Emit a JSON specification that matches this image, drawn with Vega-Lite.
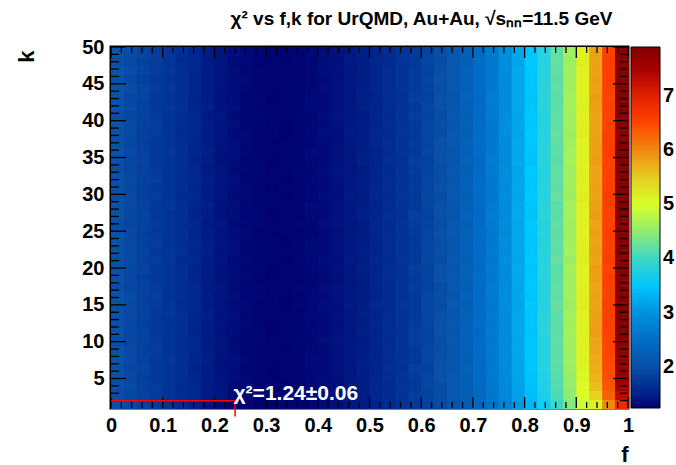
{
"$schema": "https://vega.github.io/schema/vega-lite/v6.json",
"width": 517, "height": 361,
"autosize": "none",
"padding": {"left": 111, "top": 47, "right": 48, "bottom": 57},
"background": "white",
"config": {
 "view": {"stroke": "black", "strokeWidth": 3},
 "font": "Liberation Sans",
 "axis": {"labelFont": "Liberation Sans", "labelFontSize": 20, "labelFontWeight": "bold", "labelColor": "black", "ticks": false, "domain": false, "grid": false, "titleFont": "Liberation Sans", "titleFontSize": 22, "titleFontWeight": "bold", "titleColor": "black", "labelOverlap": false, "labelFlush": false, "labelBound": false}
},
"title": {"text": "χ² vs f,k for UrQMD, Au+Au,  √sₙₙ=11.5 GeV", "fontSize": 19, "font": "Liberation Sans", "fontWeight": "bold", "anchor": "middle", "frame": "group", "dx": 52, "dy": 10, "offset": 3, "baseline": "alphabetic", "color": "black"},
"resolve": {"axis": {"x": "independent", "y": "independent"}},
"datasets": {
 "xmaj": [{"f":0},{"f":0.1},{"f":0.2},{"f":0.3},{"f":0.4},{"f":0.5},{"f":0.6},{"f":0.7},{"f":0.8},{"f":0.9},{"f":1}],
 "xmin": [{"f":0.02},{"f":0.04},{"f":0.06},{"f":0.08},{"f":0.12},{"f":0.14},{"f":0.16},{"f":0.18},{"f":0.22},{"f":0.24},{"f":0.26},{"f":0.28},{"f":0.32},{"f":0.34},{"f":0.36},{"f":0.38},{"f":0.42},{"f":0.44},{"f":0.46},{"f":0.48},{"f":0.52},{"f":0.54},{"f":0.56},{"f":0.58},{"f":0.62},{"f":0.64},{"f":0.66},{"f":0.68},{"f":0.72},{"f":0.74},{"f":0.76},{"f":0.78},{"f":0.82},{"f":0.84},{"f":0.86},{"f":0.88},{"f":0.92},{"f":0.94},{"f":0.96},{"f":0.98}],
 "ymaj": [{"k":5},{"k":10},{"k":15},{"k":20},{"k":25},{"k":30},{"k":35},{"k":40},{"k":45},{"k":50}],
 "ymin": [{"k":2},{"k":3},{"k":4},{"k":6},{"k":7},{"k":8},{"k":9},{"k":11},{"k":12},{"k":13},{"k":14},{"k":16},{"k":17},{"k":18},{"k":19},{"k":21},{"k":22},{"k":23},{"k":24},{"k":26},{"k":27},{"k":28},{"k":29},{"k":31},{"k":32},{"k":33},{"k":34},{"k":36},{"k":37},{"k":38},{"k":39},{"k":41},{"k":42},{"k":43},{"k":44},{"k":46},{"k":47},{"k":48},{"k":49}]
},
"layer": [
{
 "data": {"values": [
{"f":0,"k":1,"c":2.03},{"f":0.025,"k":1,"c":1.93},{"f":0.05,"k":1,"c":1.84},{"f":0.075,"k":1,"c":1.75},{"f":0.1,"k":1,"c":1.66},{"f":0.125,"k":1,"c":1.57},{"f":0.15,"k":1,"c":1.48},{"f":0.175,"k":1,"c":1.40},{"f":0.2,"k":1,"c":1.32},{"f":0.225,"k":1,"c":1.24},{"f":0.25,"k":1,"c":1.26},{"f":0.275,"k":1,"c":1.25},{"f":0.3,"k":1,"c":1.25},{"f":0.325,"k":1,"c":1.26},{"f":0.35,"k":1,"c":1.27},{"f":0.375,"k":1,"c":1.30},{"f":0.4,"k":1,"c":1.33},{"f":0.425,"k":1,"c":1.36},{"f":0.45,"k":1,"c":1.41},{"f":0.475,"k":1,"c":1.46},{"f":0.5,"k":1,"c":1.52},{"f":0.525,"k":1,"c":1.58},{"f":0.55,"k":1,"c":1.66},{"f":0.575,"k":1,"c":1.75},{"f":0.6,"k":1,"c":1.84},{"f":0.625,"k":1,"c":1.95},{"f":0.65,"k":1,"c":2.07},{"f":0.675,"k":1,"c":2.21},{"f":0.7,"k":1,"c":2.39},{"f":0.725,"k":1,"c":2.60},{"f":0.75,"k":1,"c":2.82},{"f":0.775,"k":1,"c":3.07},{"f":0.8,"k":1,"c":3.35},{"f":0.825,"k":1,"c":3.65},{"f":0.85,"k":1,"c":4.00},{"f":0.875,"k":1,"c":4.40},{"f":0.9,"k":1,"c":4.90},{"f":0.925,"k":1,"c":5.15},{"f":0.95,"k":1,"c":6.00},{"f":0.975,"k":1,"c":6.85},
{"f":0,"k":2.225,"c":1.99},{"f":0.025,"k":2.225,"c":1.90},{"f":0.05,"k":2.225,"c":1.85},{"f":0.075,"k":2.225,"c":1.77},{"f":0.1,"k":2.225,"c":1.68},{"f":0.125,"k":2.225,"c":1.60},{"f":0.15,"k":2.225,"c":1.55},{"f":0.175,"k":2.225,"c":1.44},{"f":0.2,"k":2.225,"c":1.41},{"f":0.225,"k":2.225,"c":1.32},{"f":0.25,"k":2.225,"c":1.30},{"f":0.275,"k":2.225,"c":1.29},{"f":0.3,"k":2.225,"c":1.26},{"f":0.325,"k":2.225,"c":1.27},{"f":0.35,"k":2.225,"c":1.29},{"f":0.375,"k":2.225,"c":1.30},{"f":0.4,"k":2.225,"c":1.34},{"f":0.425,"k":2.225,"c":1.39},{"f":0.45,"k":2.225,"c":1.41},{"f":0.475,"k":2.225,"c":1.45},{"f":0.5,"k":2.225,"c":1.54},{"f":0.525,"k":2.225,"c":1.59},{"f":0.55,"k":2.225,"c":1.67},{"f":0.575,"k":2.225,"c":1.78},{"f":0.6,"k":2.225,"c":1.86},{"f":0.625,"k":2.225,"c":1.98},{"f":0.65,"k":2.225,"c":2.13},{"f":0.675,"k":2.225,"c":2.24},{"f":0.7,"k":2.225,"c":2.43},{"f":0.725,"k":2.225,"c":2.63},{"f":0.75,"k":2.225,"c":2.87},{"f":0.775,"k":2.225,"c":3.13},{"f":0.8,"k":2.225,"c":3.42},{"f":0.825,"k":2.225,"c":3.72},{"f":0.85,"k":2.225,"c":4.08},{"f":0.875,"k":2.225,"c":4.48},{"f":0.9,"k":2.225,"c":5.00},{"f":0.925,"k":2.225,"c":5.45},{"f":0.95,"k":2.225,"c":6.30},{"f":0.975,"k":2.225,"c":7.30},
{"f":0,"k":3.45,"c":2.00},{"f":0.025,"k":3.45,"c":1.94},{"f":0.05,"k":3.45,"c":1.82},{"f":0.075,"k":3.45,"c":1.78},{"f":0.1,"k":3.45,"c":1.70},{"f":0.125,"k":3.45,"c":1.59},{"f":0.15,"k":3.45,"c":1.56},{"f":0.175,"k":3.45,"c":1.45},{"f":0.2,"k":3.45,"c":1.40},{"f":0.225,"k":3.45,"c":1.33},{"f":0.25,"k":3.45,"c":1.31},{"f":0.275,"k":3.45,"c":1.27},{"f":0.3,"k":3.45,"c":1.27},{"f":0.325,"k":3.45,"c":1.25},{"f":0.35,"k":3.45,"c":1.28},{"f":0.375,"k":3.45,"c":1.29},{"f":0.4,"k":3.45,"c":1.35},{"f":0.425,"k":3.45,"c":1.36},{"f":0.45,"k":3.45,"c":1.44},{"f":0.475,"k":3.45,"c":1.46},{"f":0.5,"k":3.45,"c":1.55},{"f":0.525,"k":3.45,"c":1.58},{"f":0.55,"k":3.45,"c":1.70},{"f":0.575,"k":3.45,"c":1.75},{"f":0.6,"k":3.45,"c":1.89},{"f":0.625,"k":3.45,"c":1.97},{"f":0.65,"k":3.45,"c":2.14},{"f":0.675,"k":3.45,"c":2.26},{"f":0.7,"k":3.45,"c":2.44},{"f":0.725,"k":3.45,"c":2.65},{"f":0.75,"k":3.45,"c":2.89},{"f":0.775,"k":3.45,"c":3.16},{"f":0.8,"k":3.45,"c":3.45},{"f":0.825,"k":3.45,"c":3.76},{"f":0.85,"k":3.45,"c":4.12},{"f":0.875,"k":3.45,"c":4.52},{"f":0.9,"k":3.45,"c":5.05},{"f":0.925,"k":3.45,"c":5.60},{"f":0.95,"k":3.45,"c":6.38},{"f":0.975,"k":3.45,"c":7.50},
{"f":0,"k":4.675,"c":2.03},{"f":0.025,"k":4.675,"c":1.92},{"f":0.05,"k":4.675,"c":1.81},{"f":0.075,"k":4.675,"c":1.75},{"f":0.1,"k":4.675,"c":1.69},{"f":0.125,"k":4.675,"c":1.62},{"f":0.15,"k":4.675,"c":1.54},{"f":0.175,"k":4.675,"c":1.47},{"f":0.2,"k":4.675,"c":1.39},{"f":0.225,"k":4.675,"c":1.34},{"f":0.25,"k":4.675,"c":1.31},{"f":0.275,"k":4.675,"c":1.27},{"f":0.3,"k":4.675,"c":1.25},{"f":0.325,"k":4.675,"c":1.26},{"f":0.35,"k":4.675,"c":1.27},{"f":0.375,"k":4.675,"c":1.29},{"f":0.4,"k":4.675,"c":1.33},{"f":0.425,"k":4.675,"c":1.36},{"f":0.45,"k":4.675,"c":1.42},{"f":0.475,"k":4.675,"c":1.47},{"f":0.5,"k":4.675,"c":1.53},{"f":0.525,"k":4.675,"c":1.60},{"f":0.55,"k":4.675,"c":1.68},{"f":0.575,"k":4.675,"c":1.77},{"f":0.6,"k":4.675,"c":1.87},{"f":0.625,"k":4.675,"c":2.02},{"f":0.65,"k":4.675,"c":2.12},{"f":0.675,"k":4.675,"c":2.27},{"f":0.7,"k":4.675,"c":2.46},{"f":0.725,"k":4.675,"c":2.66},{"f":0.75,"k":4.675,"c":2.91},{"f":0.775,"k":4.675,"c":3.18},{"f":0.8,"k":4.675,"c":3.47},{"f":0.825,"k":4.675,"c":3.78},{"f":0.85,"k":4.675,"c":4.14},{"f":0.875,"k":4.675,"c":4.55},{"f":0.9,"k":4.675,"c":5.08},{"f":0.925,"k":4.675,"c":5.68},{"f":0.95,"k":4.675,"c":6.42},{"f":0.975,"k":4.675,"c":7.60},
{"f":0,"k":5.9,"c":2.04},{"f":0.025,"k":5.9,"c":1.91},{"f":0.05,"k":5.9,"c":1.86},{"f":0.075,"k":5.9,"c":1.76},{"f":0.1,"k":5.9,"c":1.67},{"f":0.125,"k":5.9,"c":1.62},{"f":0.15,"k":5.9,"c":1.52},{"f":0.175,"k":5.9,"c":1.47},{"f":0.2,"k":5.9,"c":1.37},{"f":0.225,"k":5.9,"c":1.35},{"f":0.25,"k":5.9,"c":1.29},{"f":0.275,"k":5.9,"c":1.29},{"f":0.3,"k":5.9,"c":1.25},{"f":0.325,"k":5.9,"c":1.27},{"f":0.35,"k":5.9,"c":1.26},{"f":0.375,"k":5.9,"c":1.31},{"f":0.4,"k":5.9,"c":1.32},{"f":0.425,"k":5.9,"c":1.38},{"f":0.45,"k":5.9,"c":1.41},{"f":0.475,"k":5.9,"c":1.49},{"f":0.5,"k":5.9,"c":1.52},{"f":0.525,"k":5.9,"c":1.62},{"f":0.55,"k":5.9,"c":1.66},{"f":0.575,"k":5.9,"c":1.79},{"f":0.6,"k":5.9,"c":1.85},{"f":0.625,"k":5.9,"c":2.01},{"f":0.65,"k":5.9,"c":2.10},{"f":0.675,"k":5.9,"c":2.29},{"f":0.7,"k":5.9,"c":2.45},{"f":0.725,"k":5.9,"c":2.68},{"f":0.75,"k":5.9,"c":2.90},{"f":0.775,"k":5.9,"c":3.19},{"f":0.8,"k":5.9,"c":3.49},{"f":0.825,"k":5.9,"c":3.80},{"f":0.85,"k":5.9,"c":4.15},{"f":0.875,"k":5.9,"c":4.57},{"f":0.9,"k":5.9,"c":5.10},{"f":0.925,"k":5.9,"c":5.72},{"f":0.95,"k":5.9,"c":6.45},{"f":0.975,"k":5.9,"c":7.65},
{"f":0,"k":7.125,"c":2.05},{"f":0.025,"k":7.125,"c":1.93},{"f":0.05,"k":7.125,"c":1.84},{"f":0.075,"k":7.125,"c":1.74},{"f":0.1,"k":7.125,"c":1.71},{"f":0.125,"k":7.125,"c":1.63},{"f":0.15,"k":7.125,"c":1.53},{"f":0.175,"k":7.125,"c":1.48},{"f":0.2,"k":7.125,"c":1.38},{"f":0.225,"k":7.125,"c":1.36},{"f":0.25,"k":7.125,"c":1.30},{"f":0.275,"k":7.125,"c":1.28},{"f":0.3,"k":7.125,"c":1.27},{"f":0.325,"k":7.125,"c":1.26},{"f":0.35,"k":7.125,"c":1.26},{"f":0.375,"k":7.125,"c":1.32},{"f":0.4,"k":7.125,"c":1.33},{"f":0.425,"k":7.125,"c":1.37},{"f":0.45,"k":7.125,"c":1.43},{"f":0.475,"k":7.125,"c":1.48},{"f":0.5,"k":7.125,"c":1.51},{"f":0.525,"k":7.125,"c":1.61},{"f":0.55,"k":7.125,"c":1.69},{"f":0.575,"k":7.125,"c":1.76},{"f":0.6,"k":7.125,"c":1.88},{"f":0.625,"k":7.125,"c":2.00},{"f":0.65,"k":7.125,"c":2.11},{"f":0.675,"k":7.125,"c":2.27},{"f":0.7,"k":7.125,"c":2.47},{"f":0.725,"k":7.125,"c":2.67},{"f":0.75,"k":7.125,"c":2.93},{"f":0.775,"k":7.125,"c":3.18},{"f":0.8,"k":7.125,"c":3.48},{"f":0.825,"k":7.125,"c":3.81},{"f":0.85,"k":7.125,"c":4.17},{"f":0.875,"k":7.125,"c":4.58},{"f":0.9,"k":7.125,"c":5.12},{"f":0.925,"k":7.125,"c":5.75},{"f":0.95,"k":7.125,"c":6.48},{"f":0.975,"k":7.125,"c":7.70},
{"f":0,"k":8.35,"c":2.06},{"f":0.025,"k":8.35,"c":1.95},{"f":0.05,"k":8.35,"c":1.83},{"f":0.075,"k":8.35,"c":1.79},{"f":0.1,"k":8.35,"c":1.68},{"f":0.125,"k":8.35,"c":1.61},{"f":0.15,"k":8.35,"c":1.55},{"f":0.175,"k":8.35,"c":1.46},{"f":0.2,"k":8.35,"c":1.40},{"f":0.225,"k":8.35,"c":1.35},{"f":0.25,"k":8.35,"c":1.29},{"f":0.275,"k":8.35,"c":1.28},{"f":0.3,"k":8.35,"c":1.26},{"f":0.325,"k":8.35,"c":1.25},{"f":0.35,"k":8.35,"c":1.28},{"f":0.375,"k":8.35,"c":1.31},{"f":0.4,"k":8.35,"c":1.32},{"f":0.425,"k":8.35,"c":1.38},{"f":0.45,"k":8.35,"c":1.43},{"f":0.475,"k":8.35,"c":1.46},{"f":0.5,"k":8.35,"c":1.52},{"f":0.525,"k":8.35,"c":1.61},{"f":0.55,"k":8.35,"c":1.67},{"f":0.575,"k":8.35,"c":1.76},{"f":0.6,"k":8.35,"c":1.88},{"f":0.625,"k":8.35,"c":1.99},{"f":0.65,"k":8.35,"c":2.11},{"f":0.675,"k":8.35,"c":2.28},{"f":0.7,"k":8.35,"c":2.46},{"f":0.725,"k":8.35,"c":2.69},{"f":0.75,"k":8.35,"c":2.92},{"f":0.775,"k":8.35,"c":3.20},{"f":0.8,"k":8.35,"c":3.50},{"f":0.825,"k":8.35,"c":3.80},{"f":0.85,"k":8.35,"c":4.16},{"f":0.875,"k":8.35,"c":4.60},{"f":0.9,"k":8.35,"c":5.13},{"f":0.925,"k":8.35,"c":5.78},{"f":0.95,"k":8.35,"c":6.50},{"f":0.975,"k":8.35,"c":7.72},
{"f":0,"k":9.575,"c":1.99},{"f":0.025,"k":9.575,"c":1.90},{"f":0.05,"k":9.575,"c":1.85},{"f":0.075,"k":9.575,"c":1.77},{"f":0.1,"k":9.575,"c":1.68},{"f":0.125,"k":9.575,"c":1.60},{"f":0.15,"k":9.575,"c":1.55},{"f":0.175,"k":9.575,"c":1.44},{"f":0.2,"k":9.575,"c":1.41},{"f":0.225,"k":9.575,"c":1.32},{"f":0.25,"k":9.575,"c":1.30},{"f":0.275,"k":9.575,"c":1.29},{"f":0.3,"k":9.575,"c":1.26},{"f":0.325,"k":9.575,"c":1.27},{"f":0.35,"k":9.575,"c":1.29},{"f":0.375,"k":9.575,"c":1.30},{"f":0.4,"k":9.575,"c":1.34},{"f":0.425,"k":9.575,"c":1.39},{"f":0.45,"k":9.575,"c":1.41},{"f":0.475,"k":9.575,"c":1.45},{"f":0.5,"k":9.575,"c":1.54},{"f":0.525,"k":9.575,"c":1.59},{"f":0.55,"k":9.575,"c":1.67},{"f":0.575,"k":9.575,"c":1.78},{"f":0.6,"k":9.575,"c":1.86},{"f":0.625,"k":9.575,"c":1.98},{"f":0.65,"k":9.575,"c":2.13},{"f":0.675,"k":9.575,"c":2.29},{"f":0.7,"k":9.575,"c":2.48},{"f":0.725,"k":9.575,"c":2.67},{"f":0.75,"k":9.575,"c":2.94},{"f":0.775,"k":9.575,"c":3.19},{"f":0.8,"k":9.575,"c":3.49},{"f":0.825,"k":9.575,"c":3.82},{"f":0.85,"k":9.575,"c":4.18},{"f":0.875,"k":9.575,"c":4.59},{"f":0.9,"k":9.575,"c":5.14},{"f":0.925,"k":9.575,"c":5.80},{"f":0.95,"k":9.575,"c":6.52},{"f":0.975,"k":9.575,"c":7.75},
{"f":0,"k":10.8,"c":2.04},{"f":0.025,"k":10.8,"c":1.91},{"f":0.05,"k":10.8,"c":1.86},{"f":0.075,"k":10.8,"c":1.76},{"f":0.1,"k":10.8,"c":1.67},{"f":0.125,"k":10.8,"c":1.62},{"f":0.15,"k":10.8,"c":1.52},{"f":0.175,"k":10.8,"c":1.47},{"f":0.2,"k":10.8,"c":1.37},{"f":0.225,"k":10.8,"c":1.35},{"f":0.25,"k":10.8,"c":1.29},{"f":0.275,"k":10.8,"c":1.29},{"f":0.3,"k":10.8,"c":1.25},{"f":0.325,"k":10.8,"c":1.27},{"f":0.35,"k":10.8,"c":1.26},{"f":0.375,"k":10.8,"c":1.31},{"f":0.4,"k":10.8,"c":1.32},{"f":0.425,"k":10.8,"c":1.38},{"f":0.45,"k":10.8,"c":1.41},{"f":0.475,"k":10.8,"c":1.49},{"f":0.5,"k":10.8,"c":1.52},{"f":0.525,"k":10.8,"c":1.62},{"f":0.55,"k":10.8,"c":1.66},{"f":0.575,"k":10.8,"c":1.79},{"f":0.6,"k":10.8,"c":1.85},{"f":0.625,"k":10.8,"c":2.01},{"f":0.65,"k":10.8,"c":2.10},{"f":0.675,"k":10.8,"c":2.31},{"f":0.7,"k":10.8,"c":2.45},{"f":0.725,"k":10.8,"c":2.71},{"f":0.75,"k":10.8,"c":2.90},{"f":0.775,"k":10.8,"c":3.23},{"f":0.8,"k":10.8,"c":3.47},{"f":0.825,"k":10.8,"c":3.85},{"f":0.85,"k":10.8,"c":4.15},{"f":0.875,"k":10.8,"c":4.63},{"f":0.9,"k":10.8,"c":5.12},{"f":0.925,"k":10.8,"c":5.86},{"f":0.95,"k":10.8,"c":6.52},{"f":0.975,"k":10.8,"c":7.84},
{"f":0,"k":12.025,"c":2.03},{"f":0.025,"k":12.025,"c":1.92},{"f":0.05,"k":12.025,"c":1.81},{"f":0.075,"k":12.025,"c":1.75},{"f":0.1,"k":12.025,"c":1.69},{"f":0.125,"k":12.025,"c":1.62},{"f":0.15,"k":12.025,"c":1.54},{"f":0.175,"k":12.025,"c":1.47},{"f":0.2,"k":12.025,"c":1.39},{"f":0.225,"k":12.025,"c":1.34},{"f":0.25,"k":12.025,"c":1.31},{"f":0.275,"k":12.025,"c":1.27},{"f":0.3,"k":12.025,"c":1.25},{"f":0.325,"k":12.025,"c":1.26},{"f":0.35,"k":12.025,"c":1.27},{"f":0.375,"k":12.025,"c":1.29},{"f":0.4,"k":12.025,"c":1.33},{"f":0.425,"k":12.025,"c":1.36},{"f":0.45,"k":12.025,"c":1.42},{"f":0.475,"k":12.025,"c":1.47},{"f":0.5,"k":12.025,"c":1.53},{"f":0.525,"k":12.025,"c":1.60},{"f":0.55,"k":12.025,"c":1.68},{"f":0.575,"k":12.025,"c":1.77},{"f":0.6,"k":12.025,"c":1.87},{"f":0.625,"k":12.025,"c":2.02},{"f":0.65,"k":12.025,"c":2.12},{"f":0.675,"k":12.025,"c":2.28},{"f":0.7,"k":12.025,"c":2.50},{"f":0.725,"k":12.025,"c":2.67},{"f":0.75,"k":12.025,"c":2.91},{"f":0.775,"k":12.025,"c":3.21},{"f":0.8,"k":12.025,"c":3.50},{"f":0.825,"k":12.025,"c":3.83},{"f":0.85,"k":12.025,"c":4.17},{"f":0.875,"k":12.025,"c":4.61},{"f":0.9,"k":12.025,"c":5.13},{"f":0.925,"k":12.025,"c":5.83},{"f":0.95,"k":12.025,"c":6.57},{"f":0.975,"k":12.025,"c":7.82},
{"f":0,"k":13.25,"c":2.05},{"f":0.025,"k":13.25,"c":1.93},{"f":0.05,"k":13.25,"c":1.84},{"f":0.075,"k":13.25,"c":1.74},{"f":0.1,"k":13.25,"c":1.71},{"f":0.125,"k":13.25,"c":1.63},{"f":0.15,"k":13.25,"c":1.53},{"f":0.175,"k":13.25,"c":1.48},{"f":0.2,"k":13.25,"c":1.38},{"f":0.225,"k":13.25,"c":1.36},{"f":0.25,"k":13.25,"c":1.30},{"f":0.275,"k":13.25,"c":1.28},{"f":0.3,"k":13.25,"c":1.27},{"f":0.325,"k":13.25,"c":1.26},{"f":0.35,"k":13.25,"c":1.26},{"f":0.375,"k":13.25,"c":1.32},{"f":0.4,"k":13.25,"c":1.33},{"f":0.425,"k":13.25,"c":1.37},{"f":0.45,"k":13.25,"c":1.43},{"f":0.475,"k":13.25,"c":1.48},{"f":0.5,"k":13.25,"c":1.51},{"f":0.525,"k":13.25,"c":1.61},{"f":0.55,"k":13.25,"c":1.69},{"f":0.575,"k":13.25,"c":1.76},{"f":0.6,"k":13.25,"c":1.88},{"f":0.625,"k":13.25,"c":2.00},{"f":0.65,"k":13.25,"c":2.11},{"f":0.675,"k":13.25,"c":2.29},{"f":0.7,"k":13.25,"c":2.48},{"f":0.725,"k":13.25,"c":2.70},{"f":0.75,"k":13.25,"c":2.92},{"f":0.775,"k":13.25,"c":3.22},{"f":0.8,"k":13.25,"c":3.48},{"f":0.825,"k":13.25,"c":3.84},{"f":0.85,"k":13.25,"c":4.16},{"f":0.875,"k":13.25,"c":4.62},{"f":0.9,"k":13.25,"c":5.14},{"f":0.925,"k":13.25,"c":5.84},{"f":0.95,"k":13.25,"c":6.56},{"f":0.975,"k":13.25,"c":7.86},
{"f":0,"k":14.475,"c":2.00},{"f":0.025,"k":14.475,"c":1.94},{"f":0.05,"k":14.475,"c":1.82},{"f":0.075,"k":14.475,"c":1.78},{"f":0.1,"k":14.475,"c":1.70},{"f":0.125,"k":14.475,"c":1.59},{"f":0.15,"k":14.475,"c":1.56},{"f":0.175,"k":14.475,"c":1.45},{"f":0.2,"k":14.475,"c":1.40},{"f":0.225,"k":14.475,"c":1.33},{"f":0.25,"k":14.475,"c":1.31},{"f":0.275,"k":14.475,"c":1.27},{"f":0.3,"k":14.475,"c":1.27},{"f":0.325,"k":14.475,"c":1.25},{"f":0.35,"k":14.475,"c":1.28},{"f":0.375,"k":14.475,"c":1.29},{"f":0.4,"k":14.475,"c":1.35},{"f":0.425,"k":14.475,"c":1.36},{"f":0.45,"k":14.475,"c":1.44},{"f":0.475,"k":14.475,"c":1.46},{"f":0.5,"k":14.475,"c":1.55},{"f":0.525,"k":14.475,"c":1.58},{"f":0.55,"k":14.475,"c":1.70},{"f":0.575,"k":14.475,"c":1.75},{"f":0.6,"k":14.475,"c":1.89},{"f":0.625,"k":14.475,"c":1.97},{"f":0.65,"k":14.475,"c":2.14},{"f":0.675,"k":14.475,"c":2.26},{"f":0.7,"k":14.475,"c":2.49},{"f":0.725,"k":14.475,"c":2.66},{"f":0.75,"k":14.475,"c":2.96},{"f":0.775,"k":14.475,"c":3.18},{"f":0.8,"k":14.475,"c":3.53},{"f":0.825,"k":14.475,"c":3.80},{"f":0.85,"k":14.475,"c":4.21},{"f":0.875,"k":14.475,"c":4.57},{"f":0.9,"k":14.475,"c":5.18},{"f":0.925,"k":14.475,"c":5.79},{"f":0.95,"k":14.475,"c":6.58},{"f":0.975,"k":14.475,"c":7.76},
{"f":0,"k":15.7,"c":2.06},{"f":0.025,"k":15.7,"c":1.95},{"f":0.05,"k":15.7,"c":1.83},{"f":0.075,"k":15.7,"c":1.79},{"f":0.1,"k":15.7,"c":1.68},{"f":0.125,"k":15.7,"c":1.61},{"f":0.15,"k":15.7,"c":1.55},{"f":0.175,"k":15.7,"c":1.46},{"f":0.2,"k":15.7,"c":1.40},{"f":0.225,"k":15.7,"c":1.35},{"f":0.25,"k":15.7,"c":1.29},{"f":0.275,"k":15.7,"c":1.28},{"f":0.3,"k":15.7,"c":1.26},{"f":0.325,"k":15.7,"c":1.25},{"f":0.35,"k":15.7,"c":1.28},{"f":0.375,"k":15.7,"c":1.31},{"f":0.4,"k":15.7,"c":1.32},{"f":0.425,"k":15.7,"c":1.38},{"f":0.45,"k":15.7,"c":1.43},{"f":0.475,"k":15.7,"c":1.46},{"f":0.5,"k":15.7,"c":1.52},{"f":0.525,"k":15.7,"c":1.61},{"f":0.55,"k":15.7,"c":1.67},{"f":0.575,"k":15.7,"c":1.76},{"f":0.6,"k":15.7,"c":1.88},{"f":0.625,"k":15.7,"c":1.99},{"f":0.65,"k":15.7,"c":2.11},{"f":0.675,"k":15.7,"c":2.30},{"f":0.7,"k":15.7,"c":2.47},{"f":0.725,"k":15.7,"c":2.68},{"f":0.75,"k":15.7,"c":2.95},{"f":0.775,"k":15.7,"c":3.20},{"f":0.8,"k":15.7,"c":3.49},{"f":0.825,"k":15.7,"c":3.82},{"f":0.85,"k":15.7,"c":4.18},{"f":0.875,"k":15.7,"c":4.60},{"f":0.9,"k":15.7,"c":5.17},{"f":0.925,"k":15.7,"c":5.81},{"f":0.95,"k":15.7,"c":6.54},{"f":0.975,"k":15.7,"c":7.80},
{"f":0,"k":16.925,"c":1.99},{"f":0.025,"k":16.925,"c":1.90},{"f":0.05,"k":16.925,"c":1.85},{"f":0.075,"k":16.925,"c":1.77},{"f":0.1,"k":16.925,"c":1.68},{"f":0.125,"k":16.925,"c":1.60},{"f":0.15,"k":16.925,"c":1.55},{"f":0.175,"k":16.925,"c":1.44},{"f":0.2,"k":16.925,"c":1.41},{"f":0.225,"k":16.925,"c":1.32},{"f":0.25,"k":16.925,"c":1.30},{"f":0.275,"k":16.925,"c":1.29},{"f":0.3,"k":16.925,"c":1.26},{"f":0.325,"k":16.925,"c":1.27},{"f":0.35,"k":16.925,"c":1.29},{"f":0.375,"k":16.925,"c":1.30},{"f":0.4,"k":16.925,"c":1.34},{"f":0.425,"k":16.925,"c":1.39},{"f":0.45,"k":16.925,"c":1.41},{"f":0.475,"k":16.925,"c":1.45},{"f":0.5,"k":16.925,"c":1.54},{"f":0.525,"k":16.925,"c":1.59},{"f":0.55,"k":16.925,"c":1.67},{"f":0.575,"k":16.925,"c":1.78},{"f":0.6,"k":16.925,"c":1.86},{"f":0.625,"k":16.925,"c":1.98},{"f":0.65,"k":16.925,"c":2.13},{"f":0.675,"k":16.925,"c":2.27},{"f":0.7,"k":16.925,"c":2.46},{"f":0.725,"k":16.925,"c":2.69},{"f":0.75,"k":16.925,"c":2.94},{"f":0.775,"k":16.925,"c":3.19},{"f":0.8,"k":16.925,"c":3.51},{"f":0.825,"k":16.925,"c":3.81},{"f":0.85,"k":16.925,"c":4.19},{"f":0.875,"k":16.925,"c":4.59},{"f":0.9,"k":16.925,"c":5.16},{"f":0.925,"k":16.925,"c":5.80},{"f":0.95,"k":16.925,"c":6.53},{"f":0.975,"k":16.925,"c":7.79},
{"f":0,"k":18.15,"c":2.03},{"f":0.025,"k":18.15,"c":1.92},{"f":0.05,"k":18.15,"c":1.81},{"f":0.075,"k":18.15,"c":1.75},{"f":0.1,"k":18.15,"c":1.69},{"f":0.125,"k":18.15,"c":1.62},{"f":0.15,"k":18.15,"c":1.54},{"f":0.175,"k":18.15,"c":1.47},{"f":0.2,"k":18.15,"c":1.39},{"f":0.225,"k":18.15,"c":1.34},{"f":0.25,"k":18.15,"c":1.31},{"f":0.275,"k":18.15,"c":1.27},{"f":0.3,"k":18.15,"c":1.25},{"f":0.325,"k":18.15,"c":1.26},{"f":0.35,"k":18.15,"c":1.27},{"f":0.375,"k":18.15,"c":1.29},{"f":0.4,"k":18.15,"c":1.33},{"f":0.425,"k":18.15,"c":1.36},{"f":0.45,"k":18.15,"c":1.42},{"f":0.475,"k":18.15,"c":1.47},{"f":0.5,"k":18.15,"c":1.53},{"f":0.525,"k":18.15,"c":1.60},{"f":0.55,"k":18.15,"c":1.68},{"f":0.575,"k":18.15,"c":1.77},{"f":0.6,"k":18.15,"c":1.87},{"f":0.625,"k":18.15,"c":2.02},{"f":0.65,"k":18.15,"c":2.12},{"f":0.675,"k":18.15,"c":2.28},{"f":0.7,"k":18.15,"c":2.50},{"f":0.725,"k":18.15,"c":2.67},{"f":0.75,"k":18.15,"c":2.91},{"f":0.775,"k":18.15,"c":3.21},{"f":0.8,"k":18.15,"c":3.50},{"f":0.825,"k":18.15,"c":3.83},{"f":0.85,"k":18.15,"c":4.17},{"f":0.875,"k":18.15,"c":4.61},{"f":0.9,"k":18.15,"c":5.13},{"f":0.925,"k":18.15,"c":5.83},{"f":0.95,"k":18.15,"c":6.57},{"f":0.975,"k":18.15,"c":7.82},
{"f":0,"k":19.375,"c":2.04},{"f":0.025,"k":19.375,"c":1.91},{"f":0.05,"k":19.375,"c":1.86},{"f":0.075,"k":19.375,"c":1.76},{"f":0.1,"k":19.375,"c":1.67},{"f":0.125,"k":19.375,"c":1.62},{"f":0.15,"k":19.375,"c":1.52},{"f":0.175,"k":19.375,"c":1.47},{"f":0.2,"k":19.375,"c":1.37},{"f":0.225,"k":19.375,"c":1.35},{"f":0.25,"k":19.375,"c":1.29},{"f":0.275,"k":19.375,"c":1.29},{"f":0.3,"k":19.375,"c":1.25},{"f":0.325,"k":19.375,"c":1.27},{"f":0.35,"k":19.375,"c":1.26},{"f":0.375,"k":19.375,"c":1.31},{"f":0.4,"k":19.375,"c":1.32},{"f":0.425,"k":19.375,"c":1.38},{"f":0.45,"k":19.375,"c":1.41},{"f":0.475,"k":19.375,"c":1.49},{"f":0.5,"k":19.375,"c":1.52},{"f":0.525,"k":19.375,"c":1.62},{"f":0.55,"k":19.375,"c":1.66},{"f":0.575,"k":19.375,"c":1.79},{"f":0.6,"k":19.375,"c":1.85},{"f":0.625,"k":19.375,"c":2.01},{"f":0.65,"k":19.375,"c":2.10},{"f":0.675,"k":19.375,"c":2.31},{"f":0.7,"k":19.375,"c":2.45},{"f":0.725,"k":19.375,"c":2.71},{"f":0.75,"k":19.375,"c":2.90},{"f":0.775,"k":19.375,"c":3.23},{"f":0.8,"k":19.375,"c":3.47},{"f":0.825,"k":19.375,"c":3.85},{"f":0.85,"k":19.375,"c":4.15},{"f":0.875,"k":19.375,"c":4.63},{"f":0.9,"k":19.375,"c":5.12},{"f":0.925,"k":19.375,"c":5.86},{"f":0.95,"k":19.375,"c":6.52},{"f":0.975,"k":19.375,"c":7.84},
{"f":0,"k":20.6,"c":2.00},{"f":0.025,"k":20.6,"c":1.94},{"f":0.05,"k":20.6,"c":1.82},{"f":0.075,"k":20.6,"c":1.78},{"f":0.1,"k":20.6,"c":1.70},{"f":0.125,"k":20.6,"c":1.59},{"f":0.15,"k":20.6,"c":1.56},{"f":0.175,"k":20.6,"c":1.45},{"f":0.2,"k":20.6,"c":1.40},{"f":0.225,"k":20.6,"c":1.33},{"f":0.25,"k":20.6,"c":1.31},{"f":0.275,"k":20.6,"c":1.27},{"f":0.3,"k":20.6,"c":1.27},{"f":0.325,"k":20.6,"c":1.25},{"f":0.35,"k":20.6,"c":1.28},{"f":0.375,"k":20.6,"c":1.29},{"f":0.4,"k":20.6,"c":1.35},{"f":0.425,"k":20.6,"c":1.36},{"f":0.45,"k":20.6,"c":1.44},{"f":0.475,"k":20.6,"c":1.46},{"f":0.5,"k":20.6,"c":1.55},{"f":0.525,"k":20.6,"c":1.58},{"f":0.55,"k":20.6,"c":1.70},{"f":0.575,"k":20.6,"c":1.75},{"f":0.6,"k":20.6,"c":1.89},{"f":0.625,"k":20.6,"c":1.97},{"f":0.65,"k":20.6,"c":2.14},{"f":0.675,"k":20.6,"c":2.26},{"f":0.7,"k":20.6,"c":2.49},{"f":0.725,"k":20.6,"c":2.66},{"f":0.75,"k":20.6,"c":2.96},{"f":0.775,"k":20.6,"c":3.18},{"f":0.8,"k":20.6,"c":3.53},{"f":0.825,"k":20.6,"c":3.80},{"f":0.85,"k":20.6,"c":4.21},{"f":0.875,"k":20.6,"c":4.57},{"f":0.9,"k":20.6,"c":5.18},{"f":0.925,"k":20.6,"c":5.79},{"f":0.95,"k":20.6,"c":6.58},{"f":0.975,"k":20.6,"c":7.76},
{"f":0,"k":21.825,"c":2.05},{"f":0.025,"k":21.825,"c":1.93},{"f":0.05,"k":21.825,"c":1.84},{"f":0.075,"k":21.825,"c":1.74},{"f":0.1,"k":21.825,"c":1.71},{"f":0.125,"k":21.825,"c":1.63},{"f":0.15,"k":21.825,"c":1.53},{"f":0.175,"k":21.825,"c":1.48},{"f":0.2,"k":21.825,"c":1.38},{"f":0.225,"k":21.825,"c":1.36},{"f":0.25,"k":21.825,"c":1.30},{"f":0.275,"k":21.825,"c":1.28},{"f":0.3,"k":21.825,"c":1.27},{"f":0.325,"k":21.825,"c":1.26},{"f":0.35,"k":21.825,"c":1.26},{"f":0.375,"k":21.825,"c":1.32},{"f":0.4,"k":21.825,"c":1.33},{"f":0.425,"k":21.825,"c":1.37},{"f":0.45,"k":21.825,"c":1.43},{"f":0.475,"k":21.825,"c":1.48},{"f":0.5,"k":21.825,"c":1.51},{"f":0.525,"k":21.825,"c":1.61},{"f":0.55,"k":21.825,"c":1.69},{"f":0.575,"k":21.825,"c":1.76},{"f":0.6,"k":21.825,"c":1.88},{"f":0.625,"k":21.825,"c":2.00},{"f":0.65,"k":21.825,"c":2.11},{"f":0.675,"k":21.825,"c":2.29},{"f":0.7,"k":21.825,"c":2.48},{"f":0.725,"k":21.825,"c":2.70},{"f":0.75,"k":21.825,"c":2.92},{"f":0.775,"k":21.825,"c":3.22},{"f":0.8,"k":21.825,"c":3.48},{"f":0.825,"k":21.825,"c":3.84},{"f":0.85,"k":21.825,"c":4.16},{"f":0.875,"k":21.825,"c":4.62},{"f":0.9,"k":21.825,"c":5.14},{"f":0.925,"k":21.825,"c":5.84},{"f":0.95,"k":21.825,"c":6.56},{"f":0.975,"k":21.825,"c":7.86},
{"f":0,"k":23.05,"c":2.06},{"f":0.025,"k":23.05,"c":1.95},{"f":0.05,"k":23.05,"c":1.83},{"f":0.075,"k":23.05,"c":1.79},{"f":0.1,"k":23.05,"c":1.68},{"f":0.125,"k":23.05,"c":1.61},{"f":0.15,"k":23.05,"c":1.55},{"f":0.175,"k":23.05,"c":1.46},{"f":0.2,"k":23.05,"c":1.40},{"f":0.225,"k":23.05,"c":1.35},{"f":0.25,"k":23.05,"c":1.29},{"f":0.275,"k":23.05,"c":1.28},{"f":0.3,"k":23.05,"c":1.26},{"f":0.325,"k":23.05,"c":1.25},{"f":0.35,"k":23.05,"c":1.28},{"f":0.375,"k":23.05,"c":1.31},{"f":0.4,"k":23.05,"c":1.32},{"f":0.425,"k":23.05,"c":1.38},{"f":0.45,"k":23.05,"c":1.43},{"f":0.475,"k":23.05,"c":1.46},{"f":0.5,"k":23.05,"c":1.52},{"f":0.525,"k":23.05,"c":1.61},{"f":0.55,"k":23.05,"c":1.67},{"f":0.575,"k":23.05,"c":1.76},{"f":0.6,"k":23.05,"c":1.88},{"f":0.625,"k":23.05,"c":1.99},{"f":0.65,"k":23.05,"c":2.11},{"f":0.675,"k":23.05,"c":2.30},{"f":0.7,"k":23.05,"c":2.47},{"f":0.725,"k":23.05,"c":2.68},{"f":0.75,"k":23.05,"c":2.95},{"f":0.775,"k":23.05,"c":3.20},{"f":0.8,"k":23.05,"c":3.49},{"f":0.825,"k":23.05,"c":3.82},{"f":0.85,"k":23.05,"c":4.18},{"f":0.875,"k":23.05,"c":4.60},{"f":0.9,"k":23.05,"c":5.17},{"f":0.925,"k":23.05,"c":5.81},{"f":0.95,"k":23.05,"c":6.54},{"f":0.975,"k":23.05,"c":7.80},
{"f":0,"k":24.275,"c":2.03},{"f":0.025,"k":24.275,"c":1.92},{"f":0.05,"k":24.275,"c":1.81},{"f":0.075,"k":24.275,"c":1.75},{"f":0.1,"k":24.275,"c":1.69},{"f":0.125,"k":24.275,"c":1.62},{"f":0.15,"k":24.275,"c":1.54},{"f":0.175,"k":24.275,"c":1.47},{"f":0.2,"k":24.275,"c":1.39},{"f":0.225,"k":24.275,"c":1.34},{"f":0.25,"k":24.275,"c":1.31},{"f":0.275,"k":24.275,"c":1.27},{"f":0.3,"k":24.275,"c":1.25},{"f":0.325,"k":24.275,"c":1.26},{"f":0.35,"k":24.275,"c":1.27},{"f":0.375,"k":24.275,"c":1.29},{"f":0.4,"k":24.275,"c":1.33},{"f":0.425,"k":24.275,"c":1.36},{"f":0.45,"k":24.275,"c":1.42},{"f":0.475,"k":24.275,"c":1.47},{"f":0.5,"k":24.275,"c":1.53},{"f":0.525,"k":24.275,"c":1.60},{"f":0.55,"k":24.275,"c":1.68},{"f":0.575,"k":24.275,"c":1.77},{"f":0.6,"k":24.275,"c":1.87},{"f":0.625,"k":24.275,"c":2.02},{"f":0.65,"k":24.275,"c":2.12},{"f":0.675,"k":24.275,"c":2.28},{"f":0.7,"k":24.275,"c":2.50},{"f":0.725,"k":24.275,"c":2.67},{"f":0.75,"k":24.275,"c":2.91},{"f":0.775,"k":24.275,"c":3.21},{"f":0.8,"k":24.275,"c":3.50},{"f":0.825,"k":24.275,"c":3.83},{"f":0.85,"k":24.275,"c":4.17},{"f":0.875,"k":24.275,"c":4.61},{"f":0.9,"k":24.275,"c":5.13},{"f":0.925,"k":24.275,"c":5.83},{"f":0.95,"k":24.275,"c":6.57},{"f":0.975,"k":24.275,"c":7.82},
{"f":0,"k":25.5,"c":1.99},{"f":0.025,"k":25.5,"c":1.90},{"f":0.05,"k":25.5,"c":1.85},{"f":0.075,"k":25.5,"c":1.77},{"f":0.1,"k":25.5,"c":1.68},{"f":0.125,"k":25.5,"c":1.60},{"f":0.15,"k":25.5,"c":1.55},{"f":0.175,"k":25.5,"c":1.44},{"f":0.2,"k":25.5,"c":1.41},{"f":0.225,"k":25.5,"c":1.32},{"f":0.25,"k":25.5,"c":1.30},{"f":0.275,"k":25.5,"c":1.29},{"f":0.3,"k":25.5,"c":1.26},{"f":0.325,"k":25.5,"c":1.27},{"f":0.35,"k":25.5,"c":1.29},{"f":0.375,"k":25.5,"c":1.30},{"f":0.4,"k":25.5,"c":1.34},{"f":0.425,"k":25.5,"c":1.39},{"f":0.45,"k":25.5,"c":1.41},{"f":0.475,"k":25.5,"c":1.45},{"f":0.5,"k":25.5,"c":1.54},{"f":0.525,"k":25.5,"c":1.59},{"f":0.55,"k":25.5,"c":1.67},{"f":0.575,"k":25.5,"c":1.78},{"f":0.6,"k":25.5,"c":1.86},{"f":0.625,"k":25.5,"c":1.98},{"f":0.65,"k":25.5,"c":2.13},{"f":0.675,"k":25.5,"c":2.27},{"f":0.7,"k":25.5,"c":2.46},{"f":0.725,"k":25.5,"c":2.69},{"f":0.75,"k":25.5,"c":2.94},{"f":0.775,"k":25.5,"c":3.19},{"f":0.8,"k":25.5,"c":3.51},{"f":0.825,"k":25.5,"c":3.81},{"f":0.85,"k":25.5,"c":4.19},{"f":0.875,"k":25.5,"c":4.59},{"f":0.9,"k":25.5,"c":5.16},{"f":0.925,"k":25.5,"c":5.80},{"f":0.95,"k":25.5,"c":6.53},{"f":0.975,"k":25.5,"c":7.79},
{"f":0,"k":26.725,"c":2.04},{"f":0.025,"k":26.725,"c":1.91},{"f":0.05,"k":26.725,"c":1.86},{"f":0.075,"k":26.725,"c":1.76},{"f":0.1,"k":26.725,"c":1.67},{"f":0.125,"k":26.725,"c":1.62},{"f":0.15,"k":26.725,"c":1.52},{"f":0.175,"k":26.725,"c":1.47},{"f":0.2,"k":26.725,"c":1.37},{"f":0.225,"k":26.725,"c":1.35},{"f":0.25,"k":26.725,"c":1.29},{"f":0.275,"k":26.725,"c":1.29},{"f":0.3,"k":26.725,"c":1.25},{"f":0.325,"k":26.725,"c":1.27},{"f":0.35,"k":26.725,"c":1.26},{"f":0.375,"k":26.725,"c":1.31},{"f":0.4,"k":26.725,"c":1.32},{"f":0.425,"k":26.725,"c":1.38},{"f":0.45,"k":26.725,"c":1.41},{"f":0.475,"k":26.725,"c":1.49},{"f":0.5,"k":26.725,"c":1.52},{"f":0.525,"k":26.725,"c":1.62},{"f":0.55,"k":26.725,"c":1.66},{"f":0.575,"k":26.725,"c":1.79},{"f":0.6,"k":26.725,"c":1.85},{"f":0.625,"k":26.725,"c":2.01},{"f":0.65,"k":26.725,"c":2.10},{"f":0.675,"k":26.725,"c":2.31},{"f":0.7,"k":26.725,"c":2.45},{"f":0.725,"k":26.725,"c":2.71},{"f":0.75,"k":26.725,"c":2.90},{"f":0.775,"k":26.725,"c":3.23},{"f":0.8,"k":26.725,"c":3.47},{"f":0.825,"k":26.725,"c":3.85},{"f":0.85,"k":26.725,"c":4.15},{"f":0.875,"k":26.725,"c":4.63},{"f":0.9,"k":26.725,"c":5.12},{"f":0.925,"k":26.725,"c":5.86},{"f":0.95,"k":26.725,"c":6.52},{"f":0.975,"k":26.725,"c":7.84},
{"f":0,"k":27.95,"c":2.05},{"f":0.025,"k":27.95,"c":1.93},{"f":0.05,"k":27.95,"c":1.84},{"f":0.075,"k":27.95,"c":1.74},{"f":0.1,"k":27.95,"c":1.71},{"f":0.125,"k":27.95,"c":1.63},{"f":0.15,"k":27.95,"c":1.53},{"f":0.175,"k":27.95,"c":1.48},{"f":0.2,"k":27.95,"c":1.38},{"f":0.225,"k":27.95,"c":1.36},{"f":0.25,"k":27.95,"c":1.30},{"f":0.275,"k":27.95,"c":1.28},{"f":0.3,"k":27.95,"c":1.27},{"f":0.325,"k":27.95,"c":1.26},{"f":0.35,"k":27.95,"c":1.26},{"f":0.375,"k":27.95,"c":1.32},{"f":0.4,"k":27.95,"c":1.33},{"f":0.425,"k":27.95,"c":1.37},{"f":0.45,"k":27.95,"c":1.43},{"f":0.475,"k":27.95,"c":1.48},{"f":0.5,"k":27.95,"c":1.51},{"f":0.525,"k":27.95,"c":1.61},{"f":0.55,"k":27.95,"c":1.69},{"f":0.575,"k":27.95,"c":1.76},{"f":0.6,"k":27.95,"c":1.88},{"f":0.625,"k":27.95,"c":2.00},{"f":0.65,"k":27.95,"c":2.11},{"f":0.675,"k":27.95,"c":2.29},{"f":0.7,"k":27.95,"c":2.48},{"f":0.725,"k":27.95,"c":2.70},{"f":0.75,"k":27.95,"c":2.92},{"f":0.775,"k":27.95,"c":3.22},{"f":0.8,"k":27.95,"c":3.48},{"f":0.825,"k":27.95,"c":3.84},{"f":0.85,"k":27.95,"c":4.16},{"f":0.875,"k":27.95,"c":4.62},{"f":0.9,"k":27.95,"c":5.14},{"f":0.925,"k":27.95,"c":5.84},{"f":0.95,"k":27.95,"c":6.56},{"f":0.975,"k":27.95,"c":7.86},
{"f":0,"k":29.175,"c":2.00},{"f":0.025,"k":29.175,"c":1.94},{"f":0.05,"k":29.175,"c":1.82},{"f":0.075,"k":29.175,"c":1.78},{"f":0.1,"k":29.175,"c":1.70},{"f":0.125,"k":29.175,"c":1.59},{"f":0.15,"k":29.175,"c":1.56},{"f":0.175,"k":29.175,"c":1.45},{"f":0.2,"k":29.175,"c":1.40},{"f":0.225,"k":29.175,"c":1.33},{"f":0.25,"k":29.175,"c":1.31},{"f":0.275,"k":29.175,"c":1.27},{"f":0.3,"k":29.175,"c":1.27},{"f":0.325,"k":29.175,"c":1.25},{"f":0.35,"k":29.175,"c":1.28},{"f":0.375,"k":29.175,"c":1.29},{"f":0.4,"k":29.175,"c":1.35},{"f":0.425,"k":29.175,"c":1.36},{"f":0.45,"k":29.175,"c":1.44},{"f":0.475,"k":29.175,"c":1.46},{"f":0.5,"k":29.175,"c":1.55},{"f":0.525,"k":29.175,"c":1.58},{"f":0.55,"k":29.175,"c":1.70},{"f":0.575,"k":29.175,"c":1.75},{"f":0.6,"k":29.175,"c":1.89},{"f":0.625,"k":29.175,"c":1.97},{"f":0.65,"k":29.175,"c":2.14},{"f":0.675,"k":29.175,"c":2.26},{"f":0.7,"k":29.175,"c":2.49},{"f":0.725,"k":29.175,"c":2.66},{"f":0.75,"k":29.175,"c":2.96},{"f":0.775,"k":29.175,"c":3.18},{"f":0.8,"k":29.175,"c":3.53},{"f":0.825,"k":29.175,"c":3.80},{"f":0.85,"k":29.175,"c":4.21},{"f":0.875,"k":29.175,"c":4.57},{"f":0.9,"k":29.175,"c":5.18},{"f":0.925,"k":29.175,"c":5.79},{"f":0.95,"k":29.175,"c":6.58},{"f":0.975,"k":29.175,"c":7.76},
{"f":0,"k":30.4,"c":2.03},{"f":0.025,"k":30.4,"c":1.92},{"f":0.05,"k":30.4,"c":1.81},{"f":0.075,"k":30.4,"c":1.75},{"f":0.1,"k":30.4,"c":1.69},{"f":0.125,"k":30.4,"c":1.62},{"f":0.15,"k":30.4,"c":1.54},{"f":0.175,"k":30.4,"c":1.47},{"f":0.2,"k":30.4,"c":1.39},{"f":0.225,"k":30.4,"c":1.34},{"f":0.25,"k":30.4,"c":1.31},{"f":0.275,"k":30.4,"c":1.27},{"f":0.3,"k":30.4,"c":1.25},{"f":0.325,"k":30.4,"c":1.26},{"f":0.35,"k":30.4,"c":1.27},{"f":0.375,"k":30.4,"c":1.29},{"f":0.4,"k":30.4,"c":1.33},{"f":0.425,"k":30.4,"c":1.36},{"f":0.45,"k":30.4,"c":1.42},{"f":0.475,"k":30.4,"c":1.47},{"f":0.5,"k":30.4,"c":1.53},{"f":0.525,"k":30.4,"c":1.60},{"f":0.55,"k":30.4,"c":1.68},{"f":0.575,"k":30.4,"c":1.77},{"f":0.6,"k":30.4,"c":1.87},{"f":0.625,"k":30.4,"c":2.02},{"f":0.65,"k":30.4,"c":2.12},{"f":0.675,"k":30.4,"c":2.28},{"f":0.7,"k":30.4,"c":2.50},{"f":0.725,"k":30.4,"c":2.67},{"f":0.75,"k":30.4,"c":2.91},{"f":0.775,"k":30.4,"c":3.21},{"f":0.8,"k":30.4,"c":3.50},{"f":0.825,"k":30.4,"c":3.83},{"f":0.85,"k":30.4,"c":4.17},{"f":0.875,"k":30.4,"c":4.61},{"f":0.9,"k":30.4,"c":5.13},{"f":0.925,"k":30.4,"c":5.83},{"f":0.95,"k":30.4,"c":6.57},{"f":0.975,"k":30.4,"c":7.82},
{"f":0,"k":31.625,"c":2.06},{"f":0.025,"k":31.625,"c":1.95},{"f":0.05,"k":31.625,"c":1.83},{"f":0.075,"k":31.625,"c":1.79},{"f":0.1,"k":31.625,"c":1.68},{"f":0.125,"k":31.625,"c":1.61},{"f":0.15,"k":31.625,"c":1.55},{"f":0.175,"k":31.625,"c":1.46},{"f":0.2,"k":31.625,"c":1.40},{"f":0.225,"k":31.625,"c":1.35},{"f":0.25,"k":31.625,"c":1.29},{"f":0.275,"k":31.625,"c":1.28},{"f":0.3,"k":31.625,"c":1.26},{"f":0.325,"k":31.625,"c":1.25},{"f":0.35,"k":31.625,"c":1.28},{"f":0.375,"k":31.625,"c":1.31},{"f":0.4,"k":31.625,"c":1.32},{"f":0.425,"k":31.625,"c":1.38},{"f":0.45,"k":31.625,"c":1.43},{"f":0.475,"k":31.625,"c":1.46},{"f":0.5,"k":31.625,"c":1.52},{"f":0.525,"k":31.625,"c":1.61},{"f":0.55,"k":31.625,"c":1.67},{"f":0.575,"k":31.625,"c":1.76},{"f":0.6,"k":31.625,"c":1.88},{"f":0.625,"k":31.625,"c":1.99},{"f":0.65,"k":31.625,"c":2.11},{"f":0.675,"k":31.625,"c":2.30},{"f":0.7,"k":31.625,"c":2.47},{"f":0.725,"k":31.625,"c":2.68},{"f":0.75,"k":31.625,"c":2.95},{"f":0.775,"k":31.625,"c":3.20},{"f":0.8,"k":31.625,"c":3.49},{"f":0.825,"k":31.625,"c":3.82},{"f":0.85,"k":31.625,"c":4.18},{"f":0.875,"k":31.625,"c":4.60},{"f":0.9,"k":31.625,"c":5.17},{"f":0.925,"k":31.625,"c":5.81},{"f":0.95,"k":31.625,"c":6.54},{"f":0.975,"k":31.625,"c":7.80},
{"f":0,"k":32.85,"c":1.99},{"f":0.025,"k":32.85,"c":1.90},{"f":0.05,"k":32.85,"c":1.85},{"f":0.075,"k":32.85,"c":1.77},{"f":0.1,"k":32.85,"c":1.68},{"f":0.125,"k":32.85,"c":1.60},{"f":0.15,"k":32.85,"c":1.55},{"f":0.175,"k":32.85,"c":1.44},{"f":0.2,"k":32.85,"c":1.41},{"f":0.225,"k":32.85,"c":1.32},{"f":0.25,"k":32.85,"c":1.30},{"f":0.275,"k":32.85,"c":1.29},{"f":0.3,"k":32.85,"c":1.26},{"f":0.325,"k":32.85,"c":1.27},{"f":0.35,"k":32.85,"c":1.29},{"f":0.375,"k":32.85,"c":1.30},{"f":0.4,"k":32.85,"c":1.34},{"f":0.425,"k":32.85,"c":1.39},{"f":0.45,"k":32.85,"c":1.41},{"f":0.475,"k":32.85,"c":1.45},{"f":0.5,"k":32.85,"c":1.54},{"f":0.525,"k":32.85,"c":1.59},{"f":0.55,"k":32.85,"c":1.67},{"f":0.575,"k":32.85,"c":1.78},{"f":0.6,"k":32.85,"c":1.86},{"f":0.625,"k":32.85,"c":1.98},{"f":0.65,"k":32.85,"c":2.13},{"f":0.675,"k":32.85,"c":2.27},{"f":0.7,"k":32.85,"c":2.46},{"f":0.725,"k":32.85,"c":2.69},{"f":0.75,"k":32.85,"c":2.94},{"f":0.775,"k":32.85,"c":3.19},{"f":0.8,"k":32.85,"c":3.51},{"f":0.825,"k":32.85,"c":3.81},{"f":0.85,"k":32.85,"c":4.19},{"f":0.875,"k":32.85,"c":4.59},{"f":0.9,"k":32.85,"c":5.16},{"f":0.925,"k":32.85,"c":5.80},{"f":0.95,"k":32.85,"c":6.53},{"f":0.975,"k":32.85,"c":7.79},
{"f":0,"k":34.075,"c":2.04},{"f":0.025,"k":34.075,"c":1.91},{"f":0.05,"k":34.075,"c":1.86},{"f":0.075,"k":34.075,"c":1.76},{"f":0.1,"k":34.075,"c":1.67},{"f":0.125,"k":34.075,"c":1.62},{"f":0.15,"k":34.075,"c":1.52},{"f":0.175,"k":34.075,"c":1.47},{"f":0.2,"k":34.075,"c":1.37},{"f":0.225,"k":34.075,"c":1.35},{"f":0.25,"k":34.075,"c":1.29},{"f":0.275,"k":34.075,"c":1.29},{"f":0.3,"k":34.075,"c":1.25},{"f":0.325,"k":34.075,"c":1.27},{"f":0.35,"k":34.075,"c":1.26},{"f":0.375,"k":34.075,"c":1.31},{"f":0.4,"k":34.075,"c":1.32},{"f":0.425,"k":34.075,"c":1.38},{"f":0.45,"k":34.075,"c":1.41},{"f":0.475,"k":34.075,"c":1.49},{"f":0.5,"k":34.075,"c":1.52},{"f":0.525,"k":34.075,"c":1.62},{"f":0.55,"k":34.075,"c":1.66},{"f":0.575,"k":34.075,"c":1.79},{"f":0.6,"k":34.075,"c":1.85},{"f":0.625,"k":34.075,"c":2.01},{"f":0.65,"k":34.075,"c":2.10},{"f":0.675,"k":34.075,"c":2.31},{"f":0.7,"k":34.075,"c":2.45},{"f":0.725,"k":34.075,"c":2.71},{"f":0.75,"k":34.075,"c":2.90},{"f":0.775,"k":34.075,"c":3.23},{"f":0.8,"k":34.075,"c":3.47},{"f":0.825,"k":34.075,"c":3.85},{"f":0.85,"k":34.075,"c":4.15},{"f":0.875,"k":34.075,"c":4.63},{"f":0.9,"k":34.075,"c":5.12},{"f":0.925,"k":34.075,"c":5.86},{"f":0.95,"k":34.075,"c":6.52},{"f":0.975,"k":34.075,"c":7.84},
{"f":0,"k":35.3,"c":2.05},{"f":0.025,"k":35.3,"c":1.93},{"f":0.05,"k":35.3,"c":1.84},{"f":0.075,"k":35.3,"c":1.74},{"f":0.1,"k":35.3,"c":1.71},{"f":0.125,"k":35.3,"c":1.63},{"f":0.15,"k":35.3,"c":1.53},{"f":0.175,"k":35.3,"c":1.48},{"f":0.2,"k":35.3,"c":1.38},{"f":0.225,"k":35.3,"c":1.36},{"f":0.25,"k":35.3,"c":1.30},{"f":0.275,"k":35.3,"c":1.28},{"f":0.3,"k":35.3,"c":1.27},{"f":0.325,"k":35.3,"c":1.26},{"f":0.35,"k":35.3,"c":1.26},{"f":0.375,"k":35.3,"c":1.32},{"f":0.4,"k":35.3,"c":1.33},{"f":0.425,"k":35.3,"c":1.37},{"f":0.45,"k":35.3,"c":1.43},{"f":0.475,"k":35.3,"c":1.48},{"f":0.5,"k":35.3,"c":1.51},{"f":0.525,"k":35.3,"c":1.61},{"f":0.55,"k":35.3,"c":1.69},{"f":0.575,"k":35.3,"c":1.76},{"f":0.6,"k":35.3,"c":1.88},{"f":0.625,"k":35.3,"c":2.00},{"f":0.65,"k":35.3,"c":2.11},{"f":0.675,"k":35.3,"c":2.29},{"f":0.7,"k":35.3,"c":2.48},{"f":0.725,"k":35.3,"c":2.70},{"f":0.75,"k":35.3,"c":2.92},{"f":0.775,"k":35.3,"c":3.22},{"f":0.8,"k":35.3,"c":3.48},{"f":0.825,"k":35.3,"c":3.84},{"f":0.85,"k":35.3,"c":4.16},{"f":0.875,"k":35.3,"c":4.62},{"f":0.9,"k":35.3,"c":5.14},{"f":0.925,"k":35.3,"c":5.84},{"f":0.95,"k":35.3,"c":6.56},{"f":0.975,"k":35.3,"c":7.86},
{"f":0,"k":36.525,"c":2.03},{"f":0.025,"k":36.525,"c":1.92},{"f":0.05,"k":36.525,"c":1.81},{"f":0.075,"k":36.525,"c":1.75},{"f":0.1,"k":36.525,"c":1.69},{"f":0.125,"k":36.525,"c":1.62},{"f":0.15,"k":36.525,"c":1.54},{"f":0.175,"k":36.525,"c":1.47},{"f":0.2,"k":36.525,"c":1.39},{"f":0.225,"k":36.525,"c":1.34},{"f":0.25,"k":36.525,"c":1.31},{"f":0.275,"k":36.525,"c":1.27},{"f":0.3,"k":36.525,"c":1.25},{"f":0.325,"k":36.525,"c":1.26},{"f":0.35,"k":36.525,"c":1.27},{"f":0.375,"k":36.525,"c":1.29},{"f":0.4,"k":36.525,"c":1.33},{"f":0.425,"k":36.525,"c":1.36},{"f":0.45,"k":36.525,"c":1.42},{"f":0.475,"k":36.525,"c":1.47},{"f":0.5,"k":36.525,"c":1.53},{"f":0.525,"k":36.525,"c":1.60},{"f":0.55,"k":36.525,"c":1.68},{"f":0.575,"k":36.525,"c":1.77},{"f":0.6,"k":36.525,"c":1.87},{"f":0.625,"k":36.525,"c":2.02},{"f":0.65,"k":36.525,"c":2.12},{"f":0.675,"k":36.525,"c":2.28},{"f":0.7,"k":36.525,"c":2.50},{"f":0.725,"k":36.525,"c":2.67},{"f":0.75,"k":36.525,"c":2.91},{"f":0.775,"k":36.525,"c":3.21},{"f":0.8,"k":36.525,"c":3.50},{"f":0.825,"k":36.525,"c":3.83},{"f":0.85,"k":36.525,"c":4.17},{"f":0.875,"k":36.525,"c":4.61},{"f":0.9,"k":36.525,"c":5.13},{"f":0.925,"k":36.525,"c":5.83},{"f":0.95,"k":36.525,"c":6.57},{"f":0.975,"k":36.525,"c":7.82},
{"f":0,"k":37.75,"c":2.00},{"f":0.025,"k":37.75,"c":1.94},{"f":0.05,"k":37.75,"c":1.82},{"f":0.075,"k":37.75,"c":1.78},{"f":0.1,"k":37.75,"c":1.70},{"f":0.125,"k":37.75,"c":1.59},{"f":0.15,"k":37.75,"c":1.56},{"f":0.175,"k":37.75,"c":1.45},{"f":0.2,"k":37.75,"c":1.40},{"f":0.225,"k":37.75,"c":1.33},{"f":0.25,"k":37.75,"c":1.31},{"f":0.275,"k":37.75,"c":1.27},{"f":0.3,"k":37.75,"c":1.27},{"f":0.325,"k":37.75,"c":1.25},{"f":0.35,"k":37.75,"c":1.28},{"f":0.375,"k":37.75,"c":1.29},{"f":0.4,"k":37.75,"c":1.35},{"f":0.425,"k":37.75,"c":1.36},{"f":0.45,"k":37.75,"c":1.44},{"f":0.475,"k":37.75,"c":1.46},{"f":0.5,"k":37.75,"c":1.55},{"f":0.525,"k":37.75,"c":1.58},{"f":0.55,"k":37.75,"c":1.70},{"f":0.575,"k":37.75,"c":1.75},{"f":0.6,"k":37.75,"c":1.89},{"f":0.625,"k":37.75,"c":1.97},{"f":0.65,"k":37.75,"c":2.14},{"f":0.675,"k":37.75,"c":2.26},{"f":0.7,"k":37.75,"c":2.49},{"f":0.725,"k":37.75,"c":2.66},{"f":0.75,"k":37.75,"c":2.96},{"f":0.775,"k":37.75,"c":3.18},{"f":0.8,"k":37.75,"c":3.53},{"f":0.825,"k":37.75,"c":3.80},{"f":0.85,"k":37.75,"c":4.21},{"f":0.875,"k":37.75,"c":4.57},{"f":0.9,"k":37.75,"c":5.18},{"f":0.925,"k":37.75,"c":5.79},{"f":0.95,"k":37.75,"c":6.58},{"f":0.975,"k":37.75,"c":7.76},
{"f":0,"k":38.975,"c":2.06},{"f":0.025,"k":38.975,"c":1.95},{"f":0.05,"k":38.975,"c":1.83},{"f":0.075,"k":38.975,"c":1.79},{"f":0.1,"k":38.975,"c":1.68},{"f":0.125,"k":38.975,"c":1.61},{"f":0.15,"k":38.975,"c":1.55},{"f":0.175,"k":38.975,"c":1.46},{"f":0.2,"k":38.975,"c":1.40},{"f":0.225,"k":38.975,"c":1.35},{"f":0.25,"k":38.975,"c":1.29},{"f":0.275,"k":38.975,"c":1.28},{"f":0.3,"k":38.975,"c":1.26},{"f":0.325,"k":38.975,"c":1.25},{"f":0.35,"k":38.975,"c":1.28},{"f":0.375,"k":38.975,"c":1.31},{"f":0.4,"k":38.975,"c":1.32},{"f":0.425,"k":38.975,"c":1.38},{"f":0.45,"k":38.975,"c":1.43},{"f":0.475,"k":38.975,"c":1.46},{"f":0.5,"k":38.975,"c":1.52},{"f":0.525,"k":38.975,"c":1.61},{"f":0.55,"k":38.975,"c":1.67},{"f":0.575,"k":38.975,"c":1.76},{"f":0.6,"k":38.975,"c":1.88},{"f":0.625,"k":38.975,"c":1.99},{"f":0.65,"k":38.975,"c":2.11},{"f":0.675,"k":38.975,"c":2.30},{"f":0.7,"k":38.975,"c":2.47},{"f":0.725,"k":38.975,"c":2.68},{"f":0.75,"k":38.975,"c":2.95},{"f":0.775,"k":38.975,"c":3.20},{"f":0.8,"k":38.975,"c":3.49},{"f":0.825,"k":38.975,"c":3.82},{"f":0.85,"k":38.975,"c":4.18},{"f":0.875,"k":38.975,"c":4.60},{"f":0.9,"k":38.975,"c":5.17},{"f":0.925,"k":38.975,"c":5.81},{"f":0.95,"k":38.975,"c":6.54},{"f":0.975,"k":38.975,"c":7.80},
{"f":0,"k":40.2,"c":1.99},{"f":0.025,"k":40.2,"c":1.90},{"f":0.05,"k":40.2,"c":1.85},{"f":0.075,"k":40.2,"c":1.77},{"f":0.1,"k":40.2,"c":1.68},{"f":0.125,"k":40.2,"c":1.60},{"f":0.15,"k":40.2,"c":1.55},{"f":0.175,"k":40.2,"c":1.44},{"f":0.2,"k":40.2,"c":1.41},{"f":0.225,"k":40.2,"c":1.32},{"f":0.25,"k":40.2,"c":1.30},{"f":0.275,"k":40.2,"c":1.29},{"f":0.3,"k":40.2,"c":1.26},{"f":0.325,"k":40.2,"c":1.27},{"f":0.35,"k":40.2,"c":1.29},{"f":0.375,"k":40.2,"c":1.30},{"f":0.4,"k":40.2,"c":1.34},{"f":0.425,"k":40.2,"c":1.39},{"f":0.45,"k":40.2,"c":1.41},{"f":0.475,"k":40.2,"c":1.45},{"f":0.5,"k":40.2,"c":1.54},{"f":0.525,"k":40.2,"c":1.59},{"f":0.55,"k":40.2,"c":1.67},{"f":0.575,"k":40.2,"c":1.78},{"f":0.6,"k":40.2,"c":1.86},{"f":0.625,"k":40.2,"c":1.98},{"f":0.65,"k":40.2,"c":2.13},{"f":0.675,"k":40.2,"c":2.27},{"f":0.7,"k":40.2,"c":2.46},{"f":0.725,"k":40.2,"c":2.69},{"f":0.75,"k":40.2,"c":2.94},{"f":0.775,"k":40.2,"c":3.19},{"f":0.8,"k":40.2,"c":3.51},{"f":0.825,"k":40.2,"c":3.81},{"f":0.85,"k":40.2,"c":4.19},{"f":0.875,"k":40.2,"c":4.59},{"f":0.9,"k":40.2,"c":5.16},{"f":0.925,"k":40.2,"c":5.80},{"f":0.95,"k":40.2,"c":6.53},{"f":0.975,"k":40.2,"c":7.79},
{"f":0,"k":41.425,"c":2.05},{"f":0.025,"k":41.425,"c":1.93},{"f":0.05,"k":41.425,"c":1.84},{"f":0.075,"k":41.425,"c":1.74},{"f":0.1,"k":41.425,"c":1.71},{"f":0.125,"k":41.425,"c":1.63},{"f":0.15,"k":41.425,"c":1.53},{"f":0.175,"k":41.425,"c":1.48},{"f":0.2,"k":41.425,"c":1.38},{"f":0.225,"k":41.425,"c":1.36},{"f":0.25,"k":41.425,"c":1.30},{"f":0.275,"k":41.425,"c":1.28},{"f":0.3,"k":41.425,"c":1.27},{"f":0.325,"k":41.425,"c":1.26},{"f":0.35,"k":41.425,"c":1.26},{"f":0.375,"k":41.425,"c":1.32},{"f":0.4,"k":41.425,"c":1.33},{"f":0.425,"k":41.425,"c":1.37},{"f":0.45,"k":41.425,"c":1.43},{"f":0.475,"k":41.425,"c":1.48},{"f":0.5,"k":41.425,"c":1.51},{"f":0.525,"k":41.425,"c":1.61},{"f":0.55,"k":41.425,"c":1.69},{"f":0.575,"k":41.425,"c":1.76},{"f":0.6,"k":41.425,"c":1.88},{"f":0.625,"k":41.425,"c":2.00},{"f":0.65,"k":41.425,"c":2.11},{"f":0.675,"k":41.425,"c":2.29},{"f":0.7,"k":41.425,"c":2.48},{"f":0.725,"k":41.425,"c":2.70},{"f":0.75,"k":41.425,"c":2.92},{"f":0.775,"k":41.425,"c":3.22},{"f":0.8,"k":41.425,"c":3.48},{"f":0.825,"k":41.425,"c":3.84},{"f":0.85,"k":41.425,"c":4.16},{"f":0.875,"k":41.425,"c":4.62},{"f":0.9,"k":41.425,"c":5.14},{"f":0.925,"k":41.425,"c":5.84},{"f":0.95,"k":41.425,"c":6.56},{"f":0.975,"k":41.425,"c":7.86},
{"f":0,"k":42.65,"c":2.04},{"f":0.025,"k":42.65,"c":1.91},{"f":0.05,"k":42.65,"c":1.86},{"f":0.075,"k":42.65,"c":1.76},{"f":0.1,"k":42.65,"c":1.67},{"f":0.125,"k":42.65,"c":1.62},{"f":0.15,"k":42.65,"c":1.52},{"f":0.175,"k":42.65,"c":1.47},{"f":0.2,"k":42.65,"c":1.37},{"f":0.225,"k":42.65,"c":1.35},{"f":0.25,"k":42.65,"c":1.29},{"f":0.275,"k":42.65,"c":1.29},{"f":0.3,"k":42.65,"c":1.25},{"f":0.325,"k":42.65,"c":1.27},{"f":0.35,"k":42.65,"c":1.26},{"f":0.375,"k":42.65,"c":1.31},{"f":0.4,"k":42.65,"c":1.32},{"f":0.425,"k":42.65,"c":1.38},{"f":0.45,"k":42.65,"c":1.41},{"f":0.475,"k":42.65,"c":1.49},{"f":0.5,"k":42.65,"c":1.52},{"f":0.525,"k":42.65,"c":1.62},{"f":0.55,"k":42.65,"c":1.66},{"f":0.575,"k":42.65,"c":1.79},{"f":0.6,"k":42.65,"c":1.85},{"f":0.625,"k":42.65,"c":2.01},{"f":0.65,"k":42.65,"c":2.10},{"f":0.675,"k":42.65,"c":2.31},{"f":0.7,"k":42.65,"c":2.45},{"f":0.725,"k":42.65,"c":2.71},{"f":0.75,"k":42.65,"c":2.90},{"f":0.775,"k":42.65,"c":3.23},{"f":0.8,"k":42.65,"c":3.47},{"f":0.825,"k":42.65,"c":3.85},{"f":0.85,"k":42.65,"c":4.15},{"f":0.875,"k":42.65,"c":4.63},{"f":0.9,"k":42.65,"c":5.12},{"f":0.925,"k":42.65,"c":5.86},{"f":0.95,"k":42.65,"c":6.52},{"f":0.975,"k":42.65,"c":7.84},
{"f":0,"k":43.875,"c":2.07},{"f":0.025,"k":43.875,"c":1.96},{"f":0.05,"k":43.875,"c":1.87},{"f":0.075,"k":43.875,"c":1.78},{"f":0.1,"k":43.875,"c":1.71},{"f":0.125,"k":43.875,"c":1.63},{"f":0.15,"k":43.875,"c":1.55},{"f":0.175,"k":43.875,"c":1.47},{"f":0.2,"k":43.875,"c":1.40},{"f":0.225,"k":43.875,"c":1.34},{"f":0.25,"k":43.875,"c":1.30},{"f":0.275,"k":43.875,"c":1.28},{"f":0.3,"k":43.875,"c":1.27},{"f":0.325,"k":43.875,"c":1.26},{"f":0.35,"k":43.875,"c":1.27},{"f":0.375,"k":43.875,"c":1.30},{"f":0.4,"k":43.875,"c":1.34},{"f":0.425,"k":43.875,"c":1.37},{"f":0.45,"k":43.875,"c":1.42},{"f":0.475,"k":43.875,"c":1.48},{"f":0.5,"k":43.875,"c":1.53},{"f":0.525,"k":43.875,"c":1.60},{"f":0.55,"k":43.875,"c":1.69},{"f":0.575,"k":43.875,"c":1.77},{"f":0.6,"k":43.875,"c":1.86},{"f":0.625,"k":43.875,"c":1.99},{"f":0.65,"k":43.875,"c":2.13},{"f":0.675,"k":43.875,"c":2.28},{"f":0.7,"k":43.875,"c":2.48},{"f":0.725,"k":43.875,"c":2.68},{"f":0.75,"k":43.875,"c":2.93},{"f":0.775,"k":43.875,"c":3.21},{"f":0.8,"k":43.875,"c":3.50},{"f":0.825,"k":43.875,"c":3.83},{"f":0.85,"k":43.875,"c":4.18},{"f":0.875,"k":43.875,"c":4.61},{"f":0.9,"k":43.875,"c":5.15},{"f":0.925,"k":43.875,"c":5.82},{"f":0.95,"k":43.875,"c":6.55},{"f":0.975,"k":43.875,"c":7.83},
{"f":0,"k":45.1,"c":2.03},{"f":0.025,"k":45.1,"c":1.92},{"f":0.05,"k":45.1,"c":1.81},{"f":0.075,"k":45.1,"c":1.75},{"f":0.1,"k":45.1,"c":1.69},{"f":0.125,"k":45.1,"c":1.62},{"f":0.15,"k":45.1,"c":1.54},{"f":0.175,"k":45.1,"c":1.47},{"f":0.2,"k":45.1,"c":1.39},{"f":0.225,"k":45.1,"c":1.34},{"f":0.25,"k":45.1,"c":1.31},{"f":0.275,"k":45.1,"c":1.27},{"f":0.3,"k":45.1,"c":1.25},{"f":0.325,"k":45.1,"c":1.26},{"f":0.35,"k":45.1,"c":1.27},{"f":0.375,"k":45.1,"c":1.29},{"f":0.4,"k":45.1,"c":1.33},{"f":0.425,"k":45.1,"c":1.36},{"f":0.45,"k":45.1,"c":1.42},{"f":0.475,"k":45.1,"c":1.47},{"f":0.5,"k":45.1,"c":1.53},{"f":0.525,"k":45.1,"c":1.60},{"f":0.55,"k":45.1,"c":1.68},{"f":0.575,"k":45.1,"c":1.77},{"f":0.6,"k":45.1,"c":1.87},{"f":0.625,"k":45.1,"c":2.02},{"f":0.65,"k":45.1,"c":2.12},{"f":0.675,"k":45.1,"c":2.28},{"f":0.7,"k":45.1,"c":2.50},{"f":0.725,"k":45.1,"c":2.67},{"f":0.75,"k":45.1,"c":2.91},{"f":0.775,"k":45.1,"c":3.21},{"f":0.8,"k":45.1,"c":3.50},{"f":0.825,"k":45.1,"c":3.83},{"f":0.85,"k":45.1,"c":4.17},{"f":0.875,"k":45.1,"c":4.61},{"f":0.9,"k":45.1,"c":5.13},{"f":0.925,"k":45.1,"c":5.83},{"f":0.95,"k":45.1,"c":6.57},{"f":0.975,"k":45.1,"c":7.82},
{"f":0,"k":46.325,"c":2.07},{"f":0.025,"k":46.325,"c":1.96},{"f":0.05,"k":46.325,"c":1.87},{"f":0.075,"k":46.325,"c":1.78},{"f":0.1,"k":46.325,"c":1.71},{"f":0.125,"k":46.325,"c":1.63},{"f":0.15,"k":46.325,"c":1.55},{"f":0.175,"k":46.325,"c":1.47},{"f":0.2,"k":46.325,"c":1.40},{"f":0.225,"k":46.325,"c":1.34},{"f":0.25,"k":46.325,"c":1.30},{"f":0.275,"k":46.325,"c":1.28},{"f":0.3,"k":46.325,"c":1.27},{"f":0.325,"k":46.325,"c":1.26},{"f":0.35,"k":46.325,"c":1.27},{"f":0.375,"k":46.325,"c":1.30},{"f":0.4,"k":46.325,"c":1.34},{"f":0.425,"k":46.325,"c":1.37},{"f":0.45,"k":46.325,"c":1.42},{"f":0.475,"k":46.325,"c":1.48},{"f":0.5,"k":46.325,"c":1.53},{"f":0.525,"k":46.325,"c":1.60},{"f":0.55,"k":46.325,"c":1.69},{"f":0.575,"k":46.325,"c":1.77},{"f":0.6,"k":46.325,"c":1.86},{"f":0.625,"k":46.325,"c":1.99},{"f":0.65,"k":46.325,"c":2.13},{"f":0.675,"k":46.325,"c":2.28},{"f":0.7,"k":46.325,"c":2.48},{"f":0.725,"k":46.325,"c":2.68},{"f":0.75,"k":46.325,"c":2.93},{"f":0.775,"k":46.325,"c":3.21},{"f":0.8,"k":46.325,"c":3.50},{"f":0.825,"k":46.325,"c":3.83},{"f":0.85,"k":46.325,"c":4.18},{"f":0.875,"k":46.325,"c":4.61},{"f":0.9,"k":46.325,"c":5.15},{"f":0.925,"k":46.325,"c":5.82},{"f":0.95,"k":46.325,"c":6.55},{"f":0.975,"k":46.325,"c":7.83},
{"f":0,"k":47.55,"c":2.00},{"f":0.025,"k":47.55,"c":1.94},{"f":0.05,"k":47.55,"c":1.82},{"f":0.075,"k":47.55,"c":1.78},{"f":0.1,"k":47.55,"c":1.70},{"f":0.125,"k":47.55,"c":1.59},{"f":0.15,"k":47.55,"c":1.56},{"f":0.175,"k":47.55,"c":1.45},{"f":0.2,"k":47.55,"c":1.40},{"f":0.225,"k":47.55,"c":1.33},{"f":0.25,"k":47.55,"c":1.31},{"f":0.275,"k":47.55,"c":1.27},{"f":0.3,"k":47.55,"c":1.27},{"f":0.325,"k":47.55,"c":1.25},{"f":0.35,"k":47.55,"c":1.28},{"f":0.375,"k":47.55,"c":1.29},{"f":0.4,"k":47.55,"c":1.35},{"f":0.425,"k":47.55,"c":1.36},{"f":0.45,"k":47.55,"c":1.44},{"f":0.475,"k":47.55,"c":1.46},{"f":0.5,"k":47.55,"c":1.55},{"f":0.525,"k":47.55,"c":1.58},{"f":0.55,"k":47.55,"c":1.70},{"f":0.575,"k":47.55,"c":1.75},{"f":0.6,"k":47.55,"c":1.89},{"f":0.625,"k":47.55,"c":1.97},{"f":0.65,"k":47.55,"c":2.14},{"f":0.675,"k":47.55,"c":2.26},{"f":0.7,"k":47.55,"c":2.49},{"f":0.725,"k":47.55,"c":2.66},{"f":0.75,"k":47.55,"c":2.96},{"f":0.775,"k":47.55,"c":3.18},{"f":0.8,"k":47.55,"c":3.53},{"f":0.825,"k":47.55,"c":3.80},{"f":0.85,"k":47.55,"c":4.21},{"f":0.875,"k":47.55,"c":4.57},{"f":0.9,"k":47.55,"c":5.18},{"f":0.925,"k":47.55,"c":5.79},{"f":0.95,"k":47.55,"c":6.58},{"f":0.975,"k":47.55,"c":7.76},
{"f":0,"k":48.775,"c":2.07},{"f":0.025,"k":48.775,"c":1.96},{"f":0.05,"k":48.775,"c":1.87},{"f":0.075,"k":48.775,"c":1.78},{"f":0.1,"k":48.775,"c":1.71},{"f":0.125,"k":48.775,"c":1.63},{"f":0.15,"k":48.775,"c":1.55},{"f":0.175,"k":48.775,"c":1.47},{"f":0.2,"k":48.775,"c":1.40},{"f":0.225,"k":48.775,"c":1.34},{"f":0.25,"k":48.775,"c":1.30},{"f":0.275,"k":48.775,"c":1.28},{"f":0.3,"k":48.775,"c":1.27},{"f":0.325,"k":48.775,"c":1.26},{"f":0.35,"k":48.775,"c":1.27},{"f":0.375,"k":48.775,"c":1.30},{"f":0.4,"k":48.775,"c":1.34},{"f":0.425,"k":48.775,"c":1.37},{"f":0.45,"k":48.775,"c":1.42},{"f":0.475,"k":48.775,"c":1.48},{"f":0.5,"k":48.775,"c":1.53},{"f":0.525,"k":48.775,"c":1.60},{"f":0.55,"k":48.775,"c":1.69},{"f":0.575,"k":48.775,"c":1.77},{"f":0.6,"k":48.775,"c":1.86},{"f":0.625,"k":48.775,"c":1.99},{"f":0.65,"k":48.775,"c":2.13},{"f":0.675,"k":48.775,"c":2.28},{"f":0.7,"k":48.775,"c":2.48},{"f":0.725,"k":48.775,"c":2.68},{"f":0.75,"k":48.775,"c":2.93},{"f":0.775,"k":48.775,"c":3.21},{"f":0.8,"k":48.775,"c":3.50},{"f":0.825,"k":48.775,"c":3.83},{"f":0.85,"k":48.775,"c":4.18},{"f":0.875,"k":48.775,"c":4.61},{"f":0.9,"k":48.775,"c":5.15},{"f":0.925,"k":48.775,"c":5.82},{"f":0.95,"k":48.775,"c":6.55},{"f":0.975,"k":48.775,"c":7.83}
 ]},
 "mark": {"type": "rect", "binSpacing": -1},
 "encoding": {
  "x": {"field": "f", "type": "quantitative", "bin": {"binned": true, "step": 0.025}, "scale": {"domain": [0, 1], "nice": false, "zero": false},
   "axis": {"orient": "bottom", "values": [0,0.1,0.2,0.3,0.4,0.5,0.6,0.7,0.8,0.9,1], "format": "~g",
    "labelPadding": 7, "title": "f", "titleAnchor": "end", "titleAlign": "right", "titleX": 517, "titleY": 53, "titleBaseline": "alphabetic"}},
  "y": {"field": "k", "type": "quantitative", "bin": {"binned": true, "step": 1.225}, "scale": {"domain": [1, 50], "nice": false, "zero": false},
   "axis": {"orient": "left", "values": [5,10,15,20,25,30,35,40,45,50],
    "labelPadding": 7, "title": "k", "titleAnchor": "end", "titleAngle": -90, "titleAlign": "right", "titleBaseline": "middle", "titleX": -85, "titleY": 3}},
  "color": {"field": "c", "type": "quantitative",
   "scale": {"domain": [1.24,1.57,2.01,2.55,3.02,3.52,3.76,4.02,4.25,4.6,5.0,5.16,5.53,6.01,6.5,7.0,7.41,7.9], "range": ["#000070","#002a90","#0850a8","#0070c8","#0094e0","#00c8ff","#20d0e8","#40d8c0","#70e098","#a0f060","#d8ff28","#e0f020","#e8c820","#f08810","#ff4400","#e02000","#b00000","#800000"], "interpolate": "rgb"},
   "legend": {"type": "gradient", "orient": "none", "legendX": 520, "legendY": 0, "direction": "vertical", "gradientLength": 361, "gradientThickness": 29, "title": null, "values": [2,3,4,5,6,7], "labelFont": "Liberation Sans", "labelFontSize": 20, "labelFontWeight": "bold", "labelColor": "black", "labelOffset": 3, "gradientStrokeColor": "black", "gradientStrokeWidth": 1, "padding": 0, "labelOverlap": false}}
 }
},
{
 "data": {"name": "xmaj"},
 "mark": {"type": "rule", "color": "black", "strokeWidth": 1.3},
 "encoding": {
  "x": {"field": "f", "type": "quantitative", "scale": {"domain": [0, 1], "nice": false, "zero": false}, "axis": null},
  "y": {"datum": 1, "type": "quantitative", "scale": {"domain": [1, 50], "nice": false, "zero": false}, "axis": null},
  "y2": {"datum": 2.49}
 }
},
{
 "data": {"name": "xmaj"},
 "mark": {"type": "rule", "color": "black", "strokeWidth": 1.3},
 "encoding": {
  "x": {"field": "f", "type": "quantitative", "scale": {"domain": [0, 1], "nice": false, "zero": false}, "axis": null},
  "y": {"datum": 50, "type": "quantitative", "scale": {"domain": [1, 50], "nice": false, "zero": false}, "axis": null},
  "y2": {"datum": 48.51}
 }
},
{
 "data": {"name": "xmin"},
 "mark": {"type": "rule", "color": "black", "strokeWidth": 1.3},
 "encoding": {
  "x": {"field": "f", "type": "quantitative", "scale": {"domain": [0, 1], "nice": false, "zero": false}, "axis": null},
  "y": {"datum": 1, "type": "quantitative", "scale": {"domain": [1, 50], "nice": false, "zero": false}, "axis": null},
  "y2": {"datum": 1.81}
 }
},
{
 "data": {"name": "xmin"},
 "mark": {"type": "rule", "color": "black", "strokeWidth": 1.3},
 "encoding": {
  "x": {"field": "f", "type": "quantitative", "scale": {"domain": [0, 1], "nice": false, "zero": false}, "axis": null},
  "y": {"datum": 50, "type": "quantitative", "scale": {"domain": [1, 50], "nice": false, "zero": false}, "axis": null},
  "y2": {"datum": 49.19}
 }
},
{
 "data": {"name": "ymaj"},
 "mark": {"type": "rule", "color": "black", "strokeWidth": 1.3},
 "encoding": {
  "y": {"field": "k", "type": "quantitative", "scale": {"domain": [1, 50], "nice": false, "zero": false}, "axis": null},
  "x": {"datum": 0, "type": "quantitative", "scale": {"domain": [0, 1], "nice": false, "zero": false}, "axis": null},
  "x2": {"datum": 0.029}
 }
},
{
 "data": {"name": "ymaj"},
 "mark": {"type": "rule", "color": "black", "strokeWidth": 1.3},
 "encoding": {
  "y": {"field": "k", "type": "quantitative", "scale": {"domain": [1, 50], "nice": false, "zero": false}, "axis": null},
  "x": {"datum": 1, "type": "quantitative", "scale": {"domain": [0, 1], "nice": false, "zero": false}, "axis": null},
  "x2": {"datum": 0.971}
 }
},
{
 "data": {"name": "ymin"},
 "mark": {"type": "rule", "color": "black", "strokeWidth": 1.3},
 "encoding": {
  "y": {"field": "k", "type": "quantitative", "scale": {"domain": [1, 50], "nice": false, "zero": false}, "axis": null},
  "x": {"datum": 0, "type": "quantitative", "scale": {"domain": [0, 1], "nice": false, "zero": false}, "axis": null},
  "x2": {"datum": 0.0155}
 }
},
{
 "data": {"name": "ymin"},
 "mark": {"type": "rule", "color": "black", "strokeWidth": 1.3},
 "encoding": {
  "y": {"field": "k", "type": "quantitative", "scale": {"domain": [1, 50], "nice": false, "zero": false}, "axis": null},
  "x": {"datum": 1, "type": "quantitative", "scale": {"domain": [0, 1], "nice": false, "zero": false}, "axis": null},
  "x2": {"datum": 0.9845}
 }
},
{
 "data": {"values": [{"f": 0, "f2": 0.24, "k": 2}]},
 "mark": {"type": "rule", "color": "#ff0000", "strokeWidth": 1.5, "clip": false},
 "encoding": {
  "x": {"field": "f", "type": "quantitative", "scale": {"domain": [0, 1], "nice": false, "zero": false}, "axis": null},
  "x2": {"field": "f2"},
  "y": {"field": "k", "type": "quantitative", "scale": {"domain": [1, 50], "nice": false, "zero": false}, "axis": null}
 }
},
{
 "data": {"values": [{"f": 0.24, "k": 2, "k2": -0.15}]},
 "mark": {"type": "rule", "color": "#ff0000", "strokeWidth": 1.5, "clip": false},
 "encoding": {
  "x": {"field": "f", "type": "quantitative", "scale": {"domain": [0, 1], "nice": false, "zero": false}, "axis": null},
  "y": {"field": "k", "type": "quantitative", "scale": {"domain": [1, 50], "nice": false, "zero": false}, "axis": null},
  "y2": {"field": "k2"}
 }
},
{
 "data": {"values": [{"f": 0.237, "k": 2.1, "t": "χ²=1.24±0.06"}]},
 "mark": {"type": "text", "align": "left", "baseline": "alphabetic", "color": "white", "fontSize": 21, "fontWeight": "bold", "font": "Liberation Sans"},
 "encoding": {
  "x": {"field": "f", "type": "quantitative", "scale": {"domain": [0, 1], "nice": false, "zero": false}, "axis": null},
  "y": {"field": "k", "type": "quantitative", "scale": {"domain": [1, 50], "nice": false, "zero": false}, "axis": null},
  "text": {"field": "t"}
 }
}
]
}
